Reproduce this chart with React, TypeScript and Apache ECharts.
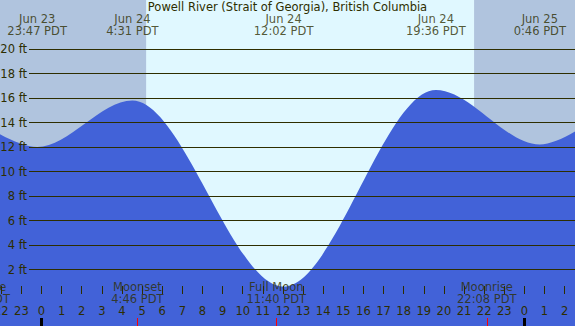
import React, { useEffect, useRef } from "react";
import * as echarts from "echarts";

const TITLE = "Powell River (Strait of Georgia), British Columbia";

// Tide turning points: hours from Jun 24 00:00 PDT, height in feet
const tideHours = [-5.17, -0.217, 4.517, 12.033, 19.6, 24.767, 29.33];
const tideFeet = [16.6, 12.0, 15.8, 0.6, 16.65, 12.2, 16.7];

// High / low tide labels
const extremeHours = [-0.217, 4.517, 12.033, 19.6, 24.767];
const extremeDates = ["Jun 23", "Jun 24", "Jun 24", "Jun 24", "Jun 25"];
const extremeTimes = ["23:47 PDT", "4:31 PDT", "12:02 PDT", "19:36 PDT", "0:46 PDT"];

// Moon events
const moonHours = [-3.05, 4.767, 11.667, 22.133];
const moonEvents = ["Moonrise", "Moonset", "Full Moon", "Moonrise"];
const moonTimes = ["20:57 PDT", "4:46 PDT", "11:40 PDT", "22:08 PDT"];

// Daylight
const sunriseHour = 5.2;
const sunsetHour = 21.5;
const midnightHours = [0, 24];

// Height grid lines
const footTicks = [2, 4, 6, 8, 10, 12, 14, 16, 18, 20];

const X_MIN = -3;
const X_MAX = 27;
const Y_MIN = -2.612;
const Y_MAX = 24;
const LINE_START = -0.62;

const FONT = "DejaVu Sans";
const INK = "#2e2e00";
const BLUE = "#4262d8";
const DAY = "#e0f8ff";
const NIGHT = "#b0c4de";

export default function App() {
  const ref = useRef<HTMLDivElement>(null);
  useEffect(() => {
    document.body.style.margin = "0";
    if (!ref.current) return;
    const chart = echarts.init(ref.current, null, { renderer: "svg" });
    const baseAxis = {
      type: "value",
      min: X_MIN,
      max: X_MAX,
      position: "bottom",
      z: 10,
      axisLine: { show: false },
      splitLine: { show: false },
    };
    chart.setOption({
      animation: false,
      backgroundColor: DAY,
      textStyle: { fontFamily: FONT },
      title: {
        text: TITLE,
        left: "center",
        top: 1,
        padding: 0,
        textStyle: { fontSize: 11.5, fontWeight: "normal", color: INK, fontFamily: FONT },
      },
      grid: { left: -18.86, right: -9.74, top: 0, bottom: 0, outerBoundsMode: "none", containLabel: false },
      xAxis: [
        {
          ...baseAxis,
          interval: 1,
          axisTick: { show: true, inside: true, length: 8, lineStyle: { color: INK, width: 1 } },
          axisLabel: {
            show: true,
            inside: true,
            margin: 9,
            fontSize: 11.5,
            color: INK,
            fontFamily: FONT,
            formatter: (v: number) => String(((Math.round(v) % 24) + 24) % 24),
          },
        },
        {
          ...baseAxis,
          axisLabel: { show: false },
          axisTick: { show: true, inside: true, length: 8, customValues: midnightHours, lineStyle: { color: "#000", width: 3 } },
        },
        {
          ...baseAxis,
          axisLabel: { show: false },
          axisTick: { show: true, inside: true, length: 8, customValues: moonHours, lineStyle: { color: "#ff0000", width: 1 } },
        },
      ],
      yAxis: { type: "value", min: Y_MIN, max: Y_MAX, show: false },
      series: [
        {
          type: "line",
          name: "tide",
          data: tideHours.map((t, i) => [t, tideFeet[i]]),
          smooth: 0.333,
          smoothMonotone: "x",
          symbol: "none",
          lineStyle: { width: 0 },
          areaStyle: { color: BLUE, opacity: 1, origin: "start" },
          z: 2,
          markArea: {
            silent: true,
            itemStyle: { color: NIGHT },
            data: [
              [{ xAxis: X_MIN }, { xAxis: sunriseHour }],
              [{ xAxis: sunsetHour }, { xAxis: X_MAX }],
            ],
          },
          markLine: {
            silent: true,
            symbol: "none",
            lineStyle: { color: INK, width: 1, type: "solid" },
            label: {
              show: true,
              position: "start",
              distance: 2,
              formatter: "{b}",
              color: INK,
              fontSize: 11.5,
              fontFamily: FONT,
            },
            data: footTicks.map((v) => [
              { coord: [LINE_START, v], name: `${v} ft` },
              { coord: [X_MAX, v] },
            ]),
          },
        },
        {
          type: "scatter",
          name: "extremes",
          clip: false,
          symbolSize: 0,
          itemStyle: { color: "transparent" },
          data: extremeHours.map((t, i) => ({ value: [t, Y_MAX], name: `${extremeDates[i]}\n${extremeTimes[i]}` })),
          label: {
            show: true,
            position: "bottom",
            distance: 13,
            formatter: "{b}",
            color: INK,
            fontSize: 11.5,
            lineHeight: 12,
            fontFamily: FONT,
            align: "center",
          },
          z: 6,
        },
        {
          type: "scatter",
          name: "moon",
          clip: false,
          symbolSize: 0,
          itemStyle: { color: "transparent" },
          data: moonHours.map((t, i) => ({ value: [t, Y_MIN], name: `${moonEvents[i]}\n${moonTimes[i]}` })),
          label: {
            show: true,
            position: "top",
            distance: 21,
            formatter: "{b}",
            color: INK,
            fontSize: 11.5,
            lineHeight: 12,
            fontFamily: FONT,
            align: "center",
          },
          z: 6,
        },
      ],
    });
    return () => chart.dispose();
  }, []);
  return <div ref={ref} style={{ width: 575, height: 326 }} />;
}
